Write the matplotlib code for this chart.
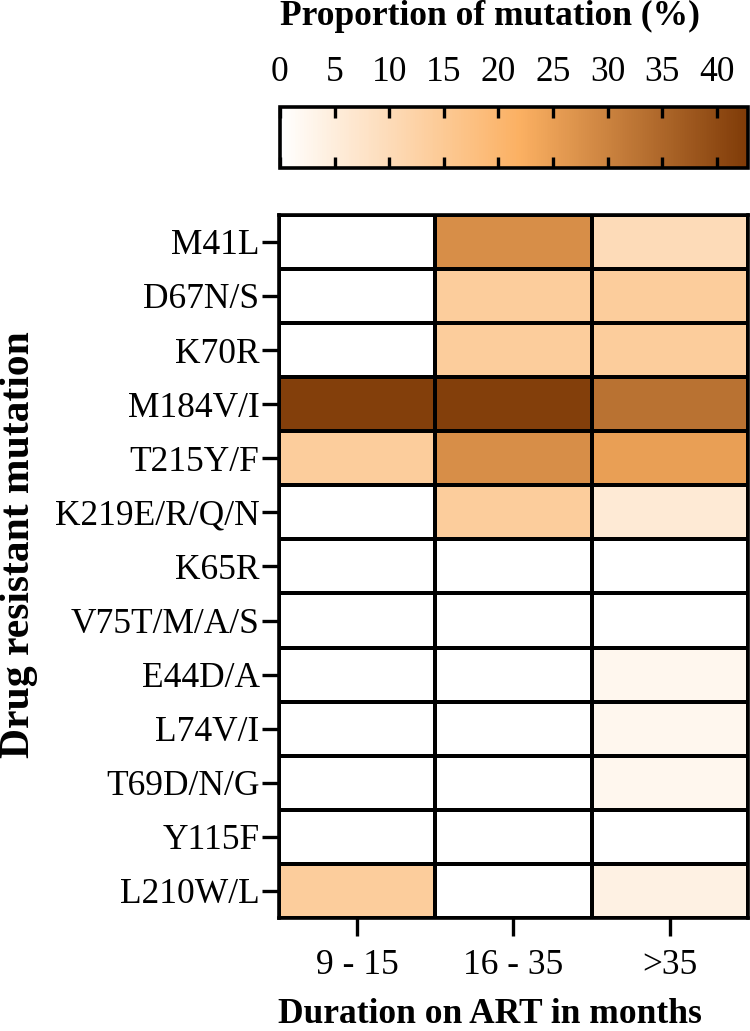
import numpy as np
import matplotlib
matplotlib.use("Agg")
import matplotlib.pyplot as plt
from matplotlib.colors import LinearSegmentedColormap

plt.rcParams['font.family'] = ['Liberation Serif', 'DejaVu Serif']

mutations = ['M41L', 'D67N/S', 'K70R', 'M184V/I', 'T215Y/F', 'K219E/R/Q/N',
             'K65R', 'V75T/M/A/S', 'E44D/A', 'L74V/I', 'T69D/N/G', 'Y115F', 'L210W/L']
durations = ['9 - 15', '16 - 35', '>35']

# proportion of mutation (%) per duration group
dur_9_15 = [0, 0, 0, 42, 14, 0, 0, 0, 0, 0, 0, 0, 14]
dur_16_35 = [28, 14, 14, 42, 28, 14, 0, 0, 0, 0, 0, 0, 0]
dur_gt35 = [10, 14, 14, 33, 25, 6, 0, 0, 2.5, 2.5, 2.5, 0, 4]

cbar_ticks = [0, 5, 10, 15, 20, 25, 30, 35, 40]
vmax = 42.8

data = np.array([dur_9_15, dur_16_35, dur_gt35]).T

cmap = LinearSegmentedColormap.from_list(
    'wob', [(0.0, '#FFFFFF'), (22 / vmax, '#FBB062'), (1.0, '#7F3B08')])

fig = plt.figure(figsize=(7.5, 10.31), dpi=100)
ax = fig.add_axes([0.372, 0.1096, 0.625, 0.682])
cax = fig.add_axes([0.3733, 0.837, 0.6234, 0.0592])

mesh = ax.pcolormesh(np.arange(len(durations) + 1), np.arange(len(mutations) + 1), data,
                     cmap=cmap, vmin=0, vmax=vmax, edgecolors='black', linewidth=1.6)
ax.set_xlim(0, len(durations))
ax.set_ylim(len(mutations), 0)
ax.set_xticks(np.arange(len(durations)) + 0.5)
ax.set_xticklabels(durations)
ax.set_yticks(np.arange(len(mutations)) + 0.5)
ax.set_yticklabels(mutations)
ax.tick_params(axis='y', length=12, width=2.4, labelsize=25.5, pad=2)
ax.tick_params(axis='x', length=13, width=2.4, labelsize=25.5, pad=9)
for s in ax.spines.values():
    s.set_linewidth(2.6)

fig.text(0.653, 0.016, 'Duration on ART in months', fontsize=25.5, fontweight='bold',
         ha='center', va='center')
fig.text(0.025, 0.472, 'Drug resistant mutation', rotation=90, fontsize=30,
         fontweight='bold', ha='center', va='center')

# colour bar on top
cb = fig.colorbar(mesh, cax=cax, orientation='horizontal')
cb.set_ticks(cbar_ticks)
cax.xaxis.set_ticks_position('both')
cax.tick_params(axis='x', direction='in', length=8, width=2.4, labelsize=25.5,
                labeltop=True, labelbottom=False, pad=13)
cb.outline.set_linewidth(2.6)
fig.text(0.653, 0.984, 'Proportion of mutation (%)', fontsize=25.5, fontweight='bold',
         ha='center', va='center')

plt.savefig('out.png', dpi=100)
